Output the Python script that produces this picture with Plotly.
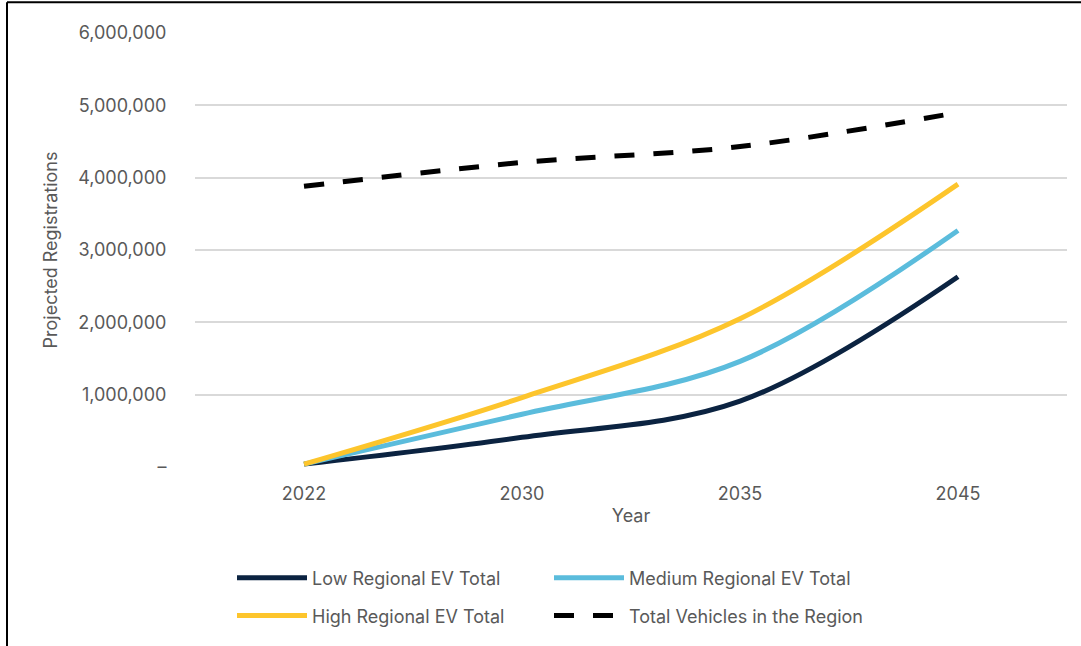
import plotly.graph_objects as go

years = ["2022", "2030", "2035", "2045"]
low = [40000, 410000, 910000, 2630000]
medium = [40000, 730000, 1460000, 3270000]
high = [40000, 960000, 2050000, 3910000]
total = [3880000, 4210000, 4430000, 4900000]

y_tickvals = [0, 1000000, 2000000, 3000000, 4000000, 5000000, 6000000]
y_ticktext = ["–", "1,000,000", "2,000,000", "3,000,000", "4,000,000", "5,000,000", "6,000,000"]

W, H = 1081, 646
# plot area in reference pixel coordinates
PL, PR, PT, PB = 195, 1067, 33, 469
L = PL
T = PT
R = W - PR
B = H - PB
pw, ph = PR - PL, PB - PT

def px_x(p):
    return (p - PL) / pw

def px_y(p):
    return (PB - p) / ph

font_family = "Inter, Lato, sans-serif"
gray = "#595959"
fs = 18

fig = go.Figure()
fig.add_trace(go.Scatter(x=years, y=low, name="Low Regional EV Total", mode="lines",
                         line=dict(color="#0b2341", width=5, shape="spline"), legend="legend"))
fig.add_trace(go.Scatter(x=years, y=medium, name="Medium Regional EV Total", mode="lines",
                         line=dict(color="#5bbcdc", width=5, shape="spline"), legend="legend"))
fig.add_trace(go.Scatter(x=years, y=high, name="High Regional EV Total", mode="lines",
                         line=dict(color="#fdc52c", width=5, shape="spline"), legend="legend2"))
fig.add_trace(go.Scatter(x=years, y=total, name="Total Vehicles in the Region", mode="lines",
                         line=dict(color="#000000", width=5, dash="20px,19px", shape="spline"), legend="legend2"))

leg_common = dict(orientation="h", xanchor="left", yanchor="top",
                  entrywidth=232, entrywidthmode="pixels", itemwidth=70,
                  font=dict(family=font_family, size=fs, color=gray), bgcolor="rgba(0,0,0,0)")

fig.update_layout(
    width=W, height=H,
    margin=dict(l=L, r=R, t=T, b=B),
    paper_bgcolor="white", plot_bgcolor="white",
    font=dict(family=font_family, size=fs, color=gray),
    showlegend=True,
    legend=dict(x=px_x(232), y=px_y(562), **leg_common),
    legend2=dict(x=px_x(232), y=px_y(600), **leg_common),
    xaxis=dict(type="category", range=[-0.5, 3.5], showgrid=False, showline=False, zeroline=False,
               ticks="outside", ticklen=10, tickcolor="rgba(0,0,0,0)",
               tickfont=dict(size=fs, color=gray),
               title=dict(text="Year", font=dict(size=fs, color=gray), standoff=6)),
    yaxis=dict(range=[0, 6000000], tickvals=y_tickvals, ticktext=y_ticktext,
               showgrid=True, gridcolor="#d9d9d9", gridwidth=2, zeroline=False, showline=False,
               ticks="outside", ticklen=24, tickcolor="rgba(0,0,0,0)",
               tickfont=dict(size=fs, color=gray),
               title=dict(text="Projected Registrations", font=dict(size=fs, color=gray), standoff=15)),
    shapes=[
        dict(type="line", xref="paper", yref="paper", x0=px_x(7), x1=px_x(1100), y0=px_y(2), y1=px_y(2),
             line=dict(color="black", width=2)),
        dict(type="line", xref="paper", yref="paper", x0=px_x(7), x1=px_x(7), y0=px_y(2), y1=px_y(660),
             line=dict(color="black", width=2)),
    ],
)

fig.write_html("out.html", config={"displayModeBar": False},
               post_script="document.body.style.margin='0px';")
